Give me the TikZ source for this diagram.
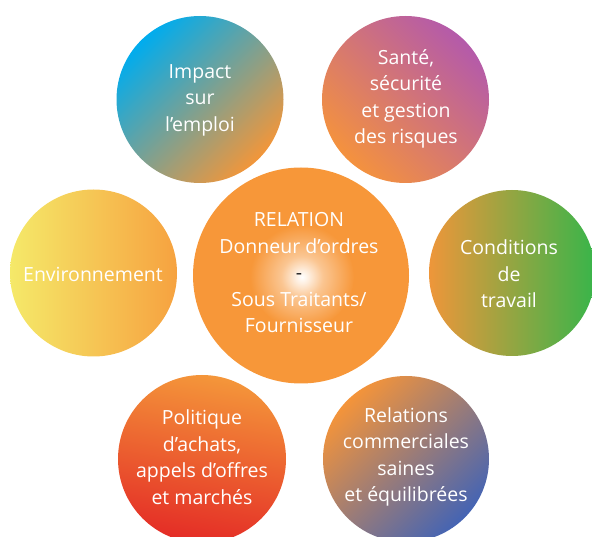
\documentclass[tikz,border=0pt]{standalone}
\usepackage{fontspec}
\setmainfont{Open Sans}
\definecolor{blueA}{RGB}{0,172,238}
\definecolor{orangeA}{RGB}{242,150,58}
\definecolor{purpleB}{RGB}{180,90,170}
\definecolor{orangeB}{RGB}{244,146,62}
\definecolor{yellowD}{RGB}{245,233,105}
\definecolor{orangeD}{RGB}{246,162,64}
\definecolor{orangeE}{RGB}{238,150,58}
\definecolor{greenE}{RGB}{56,181,74}
\definecolor{orangeF}{RGB}{244,150,58}
\definecolor{redF}{RGB}{228,44,38}
\definecolor{orangeG}{RGB}{244,148,58}
\definecolor{blueG}{RGB}{68,100,180}
\definecolor{orangeC}{RGB}{247,151,57}
\pgfdeclareradialshading{glow}{\pgfpoint{0bp}{0bp}}{%
  color(0bp)=(white); color(3bp)=(white!85!orangeC); color(10bp)=(orangeC!55!white);
  color(25bp)=(orangeC); color(50bp)=(orangeC)}
\tikzset{
  bubble/.style={circle, inner sep=0pt, minimum size=#1},
  bubbletext/.style={text=white, align=center, font=\fontsize{19.5}{26.5}\selectfont, inner sep=0pt}
}
\begin{document}
\begin{tikzpicture}[x=1pt,y=1pt]
\useasboundingbox (0,0) rectangle (592,536);
% outer bubbles
\node[bubble=167pt, top color=blueA, bottom color=orangeA, shading angle=45] (A) at (200,436.5) {};
\node[bubble=167pt, top color=purpleB, bottom color=orangeB, shading angle=-45] (B) at (405.5,436.5) {};
\node[bubble=167pt, left color=yellowD, right color=orangeD] (D) at (93.5,263) {};
\node[bubble=166pt, left color=orangeE, right color=greenE] (E) at (512,263) {};
\node[bubble=168pt, top color=orangeF, bottom color=redF, shading angle=-10] (F) at (202,77) {};
\node[bubble=166pt, top color=orangeG, bottom color=blueG, shading angle=45] (G) at (406,77) {};
% centre bubble
\node[bubble=216pt, fill=orangeC] (C) at (301,260.5) {};
\shade[shading=glow] (302,259) circle (52pt);
% texts
\node[bubbletext] (tA) at (200,436) {Impact\\sur\\l’emploi};
\node[bubbletext] (tB) at (406,437) {Santé,\\sécurité\\et gestion\\des risques};
\node[bubbletext] (tD) at (93,262) {Environnement};
\node[bubbletext] (tE) at (509,262) {Conditions\\de\\travail};
\node[bubbletext] (tF) at (202,79) {Politique\\d’achats,\\appels d’offres\\et marchés};
\node[bubbletext] (tG) at (406,79) {Relations\\commerciales\\saines\\et équilibrées};
\node[bubbletext] (tC) at (299,263) {RELATION\\Donneur d’ordres\\\textcolor{black!85}{-}\\Sous Traitants/\\Fournisseur};
\end{tikzpicture}
\end{document}
